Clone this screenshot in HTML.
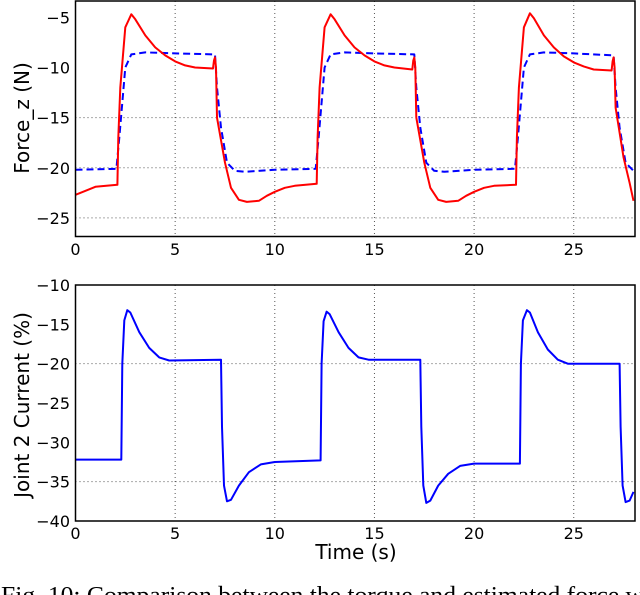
<!DOCTYPE html>
<html><head><meta charset="utf-8">
<style>
body{margin:0;background:#fff;width:640px;height:595px;overflow:hidden}
svg{display:block}
text{font-family:"DejaVu Sans","Liberation Sans",sans-serif;fill:#000}
</style></head>
<body>
<svg id="chart" width="640" height="595">
<text x="1" y="603" textLength="670" lengthAdjust="spacingAndGlyphs" style="font-family:'Liberation Serif',serif;font-size:24px">Fig. 10: Comparison between the torque and estimated force with</text>
</svg>
<script>
// ---- data ----
const xTicks=[0,5,10,15,20,25];
const forceTicks=[-5,-10,-15,-20,-25];
const currentTicks=[-10,-15,-20,-25,-30,-35,-40];
const forceGrid=[-15,-20,-25];
const currentGrid=[-20,-35];
const measuredT=[0,0.5,1,2.1,2.15,2.25,2.5,2.8,3,3.5,4,4.5,5,5.5,6,6.9,6.95,7.0,7.05,7.1,7.5,7.8,8.2,8.6,9.2,9.6,10,10.5,11,12.1,12.15,12.25,12.5,12.8,13,13.5,14,14.5,15,15.5,16,16.9,16.95,17.0,17.05,17.1,17.5,17.8,18.2,18.6,19.2,19.6,20,20.5,21,22.1,22.15,22.25,22.5,22.8,23,23.5,24,24.5,25,25.5,26,26.9,26.95,27.0,27.05,27.1,27.5,27.8,28];
const measuredV=[-22.7,-22.3,-21.9,-21.7,-17,-12,-6,-4.7,-5.2,-6.8,-8,-8.8,-9.4,-9.8,-10,-10.1,-9.3,-9,-10,-15,-19.5,-22,-23.2,-23.4,-23.3,-22.8,-22.4,-22,-21.8,-21.6,-17,-12,-6,-4.7,-5.2,-6.8,-8,-8.8,-9.4,-9.8,-10,-10.2,-9.3,-9,-10,-15,-19.5,-22,-23.2,-23.4,-23.3,-22.8,-22.4,-22,-21.8,-21.7,-17,-12,-6,-4.6,-5.1,-6.8,-8,-8.9,-9.5,-9.9,-10.2,-10.3,-9.4,-9,-10,-14,-19,-21.5,-23.3];
const estimatedT=[0,2.05,2.2,2.5,2.8,3.5,5,7.0,7.1,7.3,7.6,8,8.5,10,12.05,12.2,12.5,12.8,13.5,15,17.0,17.1,17.3,17.6,18,18.5,20,22.05,22.2,22.5,22.8,23.5,25,27.0,27.1,27.3,27.6,28];
const estimatedV=[-20.2,-20.1,-17,-10,-8.7,-8.5,-8.6,-8.7,-12,-16,-19.5,-20.3,-20.4,-20.2,-20.1,-17,-10,-8.7,-8.5,-8.6,-8.7,-12,-16,-19.5,-20.3,-20.4,-20.2,-20.1,-17,-10,-8.7,-8.5,-8.6,-8.8,-12,-16,-19.5,-20.3];
const currentT=[0,2.3,2.35,2.45,2.6,2.75,3.2,3.7,4.2,4.7,7.3,7.35,7.45,7.6,7.8,8.2,8.7,9.3,10,12.3,12.35,12.45,12.6,12.75,13.2,13.7,14.2,14.7,17.3,17.35,17.45,17.6,17.8,18.2,18.7,19.3,20,22.3,22.35,22.45,22.65,22.8,23.2,23.7,24.2,24.7,27.3,27.35,27.45,27.6,27.8,28];
const currentV=[-32.2,-32.2,-20,-14.5,-13.2,-13.5,-16,-18,-19.2,-19.6,-19.5,-28,-35.5,-37.5,-37.3,-35.5,-33.8,-32.8,-32.5,-32.3,-20,-14.6,-13.4,-13.7,-16,-18,-19.2,-19.5,-19.5,-28,-35.5,-37.7,-37.4,-35.5,-34,-33,-32.7,-32.7,-20,-14.5,-13.2,-13.5,-16,-18.2,-19.5,-20,-20,-28,-35.5,-37.6,-37.4,-36.3];

const NS='http://www.w3.org/2000/svg';
const svg=document.getElementById('chart');
const X0=75.5,XS=19.93,XR=635;
const fx=t=>X0+t*XS;
const topY=v=>17.3+(-5-v)*10.03;
const botY=v=>285+(-10-v)*7.867;
function el(tag,attrs,parent){const e=document.createElementNS(NS,tag);for(const k in attrs)e.setAttribute(k,attrs[k]);(parent||svg).appendChild(e);return e;}

function panel(name,yf,yTop,yBot,yTicks,yGrid,label,labelY){
  const g=el('g',{});
  
  
  xTicks.slice(1).forEach(t=>{const l=el('line',{x1:fx(t),x2:fx(t),y1:yTop,y2:yBot,stroke:'#555','stroke-width':1,'stroke-dasharray':'1,3'},g);
    
    });
  yGrid.forEach(v=>{const l=el('line',{x1:X0,x2:XR,y1:yf(v),y2:yf(v),stroke:'#555','stroke-width':1,'stroke-dasharray':'1,3'},g);
    
    });
  yTicks.forEach(v=>{const t=el('text',{x:70,y:yf(v)+6,'text-anchor':'end','font-size':'16px'},g);t.textContent=v<0?'\u2212'+(-v):v;
    
    });
  const yl=el('text',{x:0,y:0,'text-anchor':'middle','font-size':'20px',transform:`translate(29,${labelY}) rotate(-90)`},g);yl.textContent=label;
  
  
  return g;
}
function line(g,T,V,yf,color,dash,name){
  const d=T.map((t,i)=>(i?'L':'M')+fx(t).toFixed(1)+','+yf(V[i]).toFixed(1)).join('');
  const p=el('path',{d,fill:'none',stroke:color,'stroke-width':2,'stroke-linejoin':'round'},g);
  if(dash)p.setAttribute('stroke-dasharray',dash);
  
  
}
function frame(g,yTop,yBot,labY){
  const r=el('rect',{x:X0,y:yTop,width:XR-X0,height:yBot-yTop,fill:'none',stroke:'#000','stroke-width':1.5},g);
  
  
  xTicks.forEach(t=>{const tx=el('text',{x:fx(t),y:labY,'text-anchor':'middle','font-size':'16px'},g);tx.textContent=t;
    
    });
}
const cp=el('clipPath',{id:'c1'});el('rect',{x:X0,y:1,width:XR-X0,height:236},cp);
const cp2=el('clipPath',{id:'c2'});el('rect',{x:X0,y:285,width:XR-X0,height:236},cp2);

const g1=panel('force-panel',topY,1,236.5,forceTicks,forceGrid,'Force_z (N)',118);
const s1=el('g',{'clip-path':'url(#c1)'},g1);
line(s1,estimatedT,estimatedV,topY,'#0000ff','7,4','estimated-force-line');
line(s1,measuredT,measuredV,topY,'#ff0000',null,'measured-force-line');
frame(g1,1,236.5,255);

const g2=panel('current-panel',botY,285,521,currentTicks,currentGrid,'Joint 2 Current (%)',405);
const s2=el('g',{'clip-path':'url(#c2)'},g2);
line(s2,currentT,currentV,botY,'#0000ff',null,'joint2-current-line');
frame(g2,285,521,539);
const xt=el('text',{x:356,y:559,'text-anchor':'middle','font-size':'20px'});xt.textContent='Time (s)';


</script>
</body></html>
